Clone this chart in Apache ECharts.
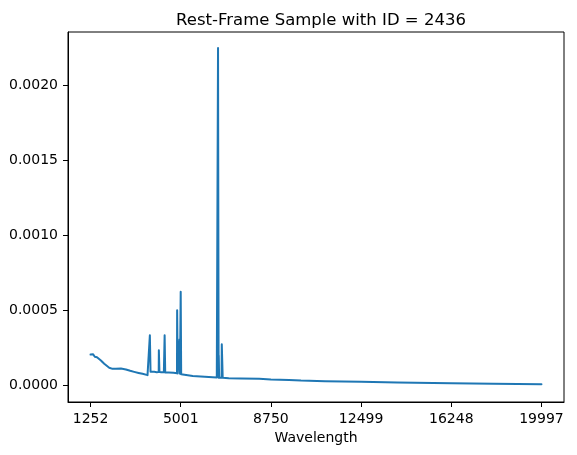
<!DOCTYPE html>
<html>
<head>
<meta charset="utf-8">
<script src="https://cdn.jsdelivr.net/npm/echarts@6/dist/echarts.min.js"></script>
<style>
  html, body { margin: 0; padding: 0; background: #fff; }
  #chart { width: 577px; height: 455px; }
</style>
</head>
<body>
<div id="chart"></div>
<script>
// spectrum (rest-frame wavelength, flux)
var wavelengths = [
  1252, 1265, 1280, 1295, 1310, 1335, 1360, 1400, 1430, 1447, 1480, 1520, 1543, 1600, 1684, 1760, 1821, 1900,
  2029, 2166, 2300, 2515, 2723, 2900, 3068, 3250, 3413, 3621, 3700,
  3708, 3718, 3736, 3746,
  3800, 3900, 4000, 4086,
  4092, 4108, 4116,
  4200, 4300, 4326,
  4332, 4348, 4356,
  4500, 4700, 4846,
  4852, 4868, 4876,
  4946, 4952, 4964, 4970,
  4994, 5000, 5014, 5020,
  5100, 5500, 6000, 6500, 6546,
  6552, 6570, 6576, 6582, 6592, 6598,
  6700, 6708, 6738, 6746,
  7000, 7500, 8263, 8750, 9500, 10000, 11000, 12499, 14000, 16248, 18000, 19997
];
var flux = [
  0.000206, 0.000214, 0.000208, 0.000212, 0.000203, 0.000218, 0.000208, 0.000200, 0.000192, 0.000185, 0.000193, 0.000188, 0.000190, 0.000180, 0.000167, 0.000155, 0.000145, 0.000132,
  0.000118, 0.000111, 0.000112, 0.000113, 0.000107, 0.000098, 0.000091, 0.000084, 0.000078, 0.000069, 0.000067,
  0.000066, 0.000335, 0.000330, 0.000092,
  0.000090, 0.000091, 0.000089, 0.000090,
  0.000235, 0.000232, 0.000090,
  0.000088, 0.000088, 0.000088,
  0.000335, 0.000330, 0.000087,
  0.000086, 0.000085, 0.000082,
  0.000502, 0.000498, 0.000080,
  0.000080, 0.000307, 0.000302, 0.000079,
  0.000078, 0.000625, 0.000620, 0.000075,
  0.000070, 0.000064, 0.000058, 0.000053, 0.000052,
  0.002251, 0.002245, 0.000052, 0.000200, 0.000198, 0.000051,
  0.000051, 0.000275, 0.000272, 0.000051,
  0.000049, 0.000047, 0.000045, 0.000040, 0.000037, 0.000033, 0.000029, 0.0000247, 0.000020, 0.000015, 0.000012, 0.0000087
];
var xTicks = [1252, 5001, 8750, 12499, 16248, 19997];
var yTicks = [0, 0.0005, 0.0010, 0.0015, 0.0020];

var data = [];
for (var i = 0; i < wavelengths.length; i++) {
  data.push([wavelengths[i], flux[i]]);
}

var font = 'DejaVu Sans';
var chart = echarts.init(document.getElementById('chart'), null, {renderer: 'canvas'});
var option = {
  animation: false,
  backgroundColor: '#fff',
  title: {
    text: 'Rest-Frame Sample with ID = 2436',
    left: 316,
    textAlign: 'center',
    top: 7,
    textStyle: {fontFamily: font, fontSize: 16.5, fontWeight: 'normal', color: '#000'}
  },
  grid: {
    left: 68, top: 32, right: 13, bottom: 53,
    outerBoundsMode: 'none',
    containLabel: false,
    show: true,
    borderColor: '#000',
    borderWidth: 1,
    backgroundColor: 'transparent'
  },
  xAxis: {
    type: 'value',
    min: 315,
    max: 20934,
    name: 'Wavelength',
    nameLocation: 'middle',
    nameGap: 27,
    nameTextStyle: {fontFamily: font, fontSize: 14, color: '#000'},
    splitLine: {show: false},
    axisLine: {onZero: false, lineStyle: {color: '#000', width: 1}},
    axisTick: {show: true, length: 5, customValues: xTicks, lineStyle: {color: '#000'}},
    axisLabel: {
      customValues: xTicks,
      margin: 10,
      fontFamily: font, fontSize: 14, color: '#000',
      formatter: function (v) { return String(v); }
    }
  },
  yAxis: {
    type: 'value',
    min: -0.00011,
    max: 0.002357,
    splitLine: {show: false},
    axisLine: {show: true, onZero: false, lineStyle: {color: '#000', width: 1}},
    axisTick: {show: true, length: 5, customValues: yTicks, lineStyle: {color: '#000'}},
    axisLabel: {
      customValues: yTicks,
      margin: 10,
      fontFamily: font, fontSize: 14, color: '#000',
      formatter: function (v) { return v.toFixed(4); }
    }
  },
  series: [{
    type: 'line',
    data: data,
    showSymbol: false,
    lineStyle: {color: '#1f77b4', width: 2, join: 'round', cap: 'round'},
    itemStyle: {color: '#1f77b4'}
  }]
};
chart.setOption(option);
</script>
</body>
</html>
